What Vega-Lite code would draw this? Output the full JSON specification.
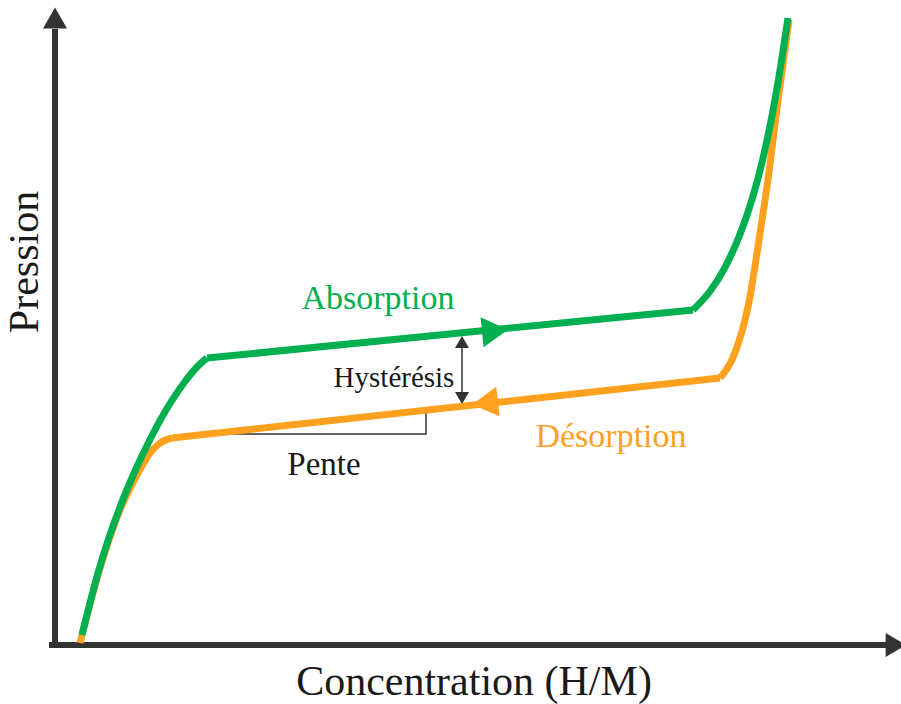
{
  "$schema": "https://vega.github.io/schema/vega-lite/v6.json",
  "width": 901,
  "height": 704,
  "autosize": "none",
  "padding": 0,
  "background": "white",
  "config": {"view": {"stroke": null}},
  "datasets": {
    "curves": [
      {"curve": "Désorption", "seg": "o1", "x": 25, "y": 2},
      {"curve": "Désorption", "seg": "o1", "x": 43, "y": 70},
      {"curve": "Désorption", "seg": "o1", "x": 65, "y": 135},
      {"curve": "Désorption", "seg": "o1", "x": 82, "y": 170},
      {"curve": "Désorption", "seg": "o1", "x": 95, "y": 192},
      {"curve": "Désorption", "seg": "o1", "x": 105, "y": 202},
      {"curve": "Désorption", "seg": "o1", "x": 117, "y": 207},
      {"curve": "Désorption", "seg": "o2", "x": 117, "y": 207},
      {"curve": "Désorption", "seg": "o2", "x": 665, "y": 267},
      {"curve": "Désorption", "seg": "o3", "x": 665, "y": 267},
      {"curve": "Désorption", "seg": "o3", "x": 681, "y": 295},
      {"curve": "Désorption", "seg": "o3", "x": 694, "y": 343},
      {"curve": "Désorption", "seg": "o3", "x": 704, "y": 405},
      {"curve": "Désorption", "seg": "o3", "x": 714, "y": 473},
      {"curve": "Désorption", "seg": "o3", "x": 722, "y": 537},
      {"curve": "Désorption", "seg": "o3", "x": 729, "y": 588},
      {"curve": "Désorption", "seg": "o3", "x": 734, "y": 625},
      {"curve": "Absorption", "seg": "g1", "x": 27, "y": 10},
      {"curve": "Absorption", "seg": "g1", "x": 43, "y": 72},
      {"curve": "Absorption", "seg": "g1", "x": 65, "y": 138},
      {"curve": "Absorption", "seg": "g1", "x": 80, "y": 174},
      {"curve": "Absorption", "seg": "g1", "x": 95, "y": 205.5},
      {"curve": "Absorption", "seg": "g1", "x": 115, "y": 241.5},
      {"curve": "Absorption", "seg": "g1", "x": 130, "y": 263.5},
      {"curve": "Absorption", "seg": "g1", "x": 142, "y": 278},
      {"curve": "Absorption", "seg": "g1", "x": 152, "y": 287},
      {"curve": "Absorption", "seg": "g2", "x": 152, "y": 287},
      {"curve": "Absorption", "seg": "g2", "x": 638, "y": 335},
      {"curve": "Absorption", "seg": "g3", "x": 638, "y": 335},
      {"curve": "Absorption", "seg": "g3", "x": 655, "y": 353.7},
      {"curve": "Absorption", "seg": "g3", "x": 670, "y": 377.7},
      {"curve": "Absorption", "seg": "g3", "x": 685, "y": 410.7},
      {"curve": "Absorption", "seg": "g3", "x": 697, "y": 445.5},
      {"curve": "Absorption", "seg": "g3", "x": 707, "y": 482.5},
      {"curve": "Absorption", "seg": "g3", "x": 716, "y": 524},
      {"curve": "Absorption", "seg": "g3", "x": 724, "y": 568.7},
      {"curve": "Absorption", "seg": "g3", "x": 733, "y": 627}
    ],
    "rules": [
      {"name": "xaxis", "x": -6, "x2": 831, "y": 0, "y2": 0, "w": 6},
      {"name": "yaxis", "x": 0, "x2": 0, "y": -3, "y2": 616, "w": 6},
      {"name": "hyst", "x": 407, "x2": 407, "y": 250, "y2": 300, "w": 1.5}
    ],
    "heads": [
      {"name": "yaxis", "x": 0, "y": 627, "shape": "triangle-up", "size": 576, "angle": 0, "color": "#333333"},
      {"name": "xaxis", "x": 841, "y": 0, "shape": "triangle-right", "size": 576, "angle": 0, "color": "#333333"},
      {"name": "Absorption", "x": 440, "y": 314, "shape": "triangle-right", "size": 900, "angle": -5.6, "color": "#00b050"},
      {"name": "Désorption", "x": 430, "y": 242, "shape": "triangle-left", "size": 900, "angle": -6.4, "color": "#ffa11f"},
      {"name": "hyst-top", "x": 407, "y": 303, "shape": "triangle-up", "size": 196, "angle": 0, "color": "#333333"},
      {"name": "hyst-bottom", "x": 407, "y": 247, "shape": "triangle-down", "size": 196, "angle": 0, "color": "#333333"}
    ],
    "bracket": [
      {"o": 1, "x": 173, "y": 211},
      {"o": 2, "x": 371, "y": 211},
      {"o": 3, "x": 371, "y": 234}
    ],
    "labels": [
      {"text": "Absorption", "x": 323, "y": 336, "size": 34, "angle": 0, "color": "#00b050"},
      {"text": "Désorption", "x": 556, "y": 198, "size": 34, "angle": 0, "color": "#ffa11f"},
      {"text": "Pente", "x": 269, "y": 170, "size": 33, "angle": 0, "color": "#1a1a1a"},
      {"text": "Hystérésis", "x": 339, "y": 258, "size": 29, "angle": 0, "color": "#1a1a1a"},
      {"text": "Concentration (H/M)", "x": 419, "y": -50, "size": 42, "angle": 0, "color": "#1a1a1a"},
      {"text": "Pression", "x": -17, "y": 383, "size": 42, "angle": 270, "color": "#1a1a1a"}
    ]
  },
  "encoding": {
    "x": {"type": "quantitative", "scale": {"domain": [-55, 846], "nice": false, "zero": false}, "axis": null},
    "y": {"type": "quantitative", "scale": {"domain": [-59, 645], "nice": false, "zero": false}, "axis": null}
  },
  "layer": [
    {
      "data": {"name": "rules"},
      "mark": {"type": "rule", "color": "#333333", "strokeCap": "butt"},
      "encoding": {
        "x": {"field": "x", "type": "quantitative"},
        "x2": {"field": "x2"},
        "y": {"field": "y", "type": "quantitative"},
        "y2": {"field": "y2"},
        "strokeWidth": {"field": "w", "type": "quantitative", "scale": null}
      }
    },
    {
      "data": {"name": "bracket"},
      "mark": {"type": "line", "color": "#333333", "strokeWidth": 1.5},
      "encoding": {
        "x": {"field": "x", "type": "quantitative"},
        "y": {"field": "y", "type": "quantitative"},
        "order": {"field": "o", "type": "quantitative"}
      }
    },
    {
      "data": {"name": "curves"},
      "transform": [{"filter": "datum.curve === 'Désorption'"}],
      "mark": {"type": "line", "color": "#ffa11f", "strokeWidth": 7, "interpolate": "monotone"},
      "encoding": {
        "x": {"field": "x", "type": "quantitative"},
        "y": {"field": "y", "type": "quantitative"},
        "detail": {"field": "seg"}
      }
    },
    {
      "data": {"name": "curves"},
      "transform": [{"filter": "datum.curve === 'Absorption'"}],
      "mark": {"type": "line", "color": "#00b050", "strokeWidth": 7, "interpolate": "monotone"},
      "encoding": {
        "x": {"field": "x", "type": "quantitative"},
        "y": {"field": "y", "type": "quantitative"},
        "detail": {"field": "seg"}
      }
    },
    {
      "data": {"name": "heads"},
      "mark": {"type": "point", "filled": true, "opacity": 1, "strokeWidth": 0},
      "encoding": {
        "x": {"field": "x", "type": "quantitative"},
        "y": {"field": "y", "type": "quantitative"},
        "shape": {"field": "shape", "type": "nominal", "scale": null},
        "size": {"field": "size", "type": "quantitative", "scale": null},
        "angle": {"field": "angle", "type": "quantitative", "scale": null},
        "color": {"field": "color", "type": "nominal", "scale": null}
      }
    },
    {
      "data": {"name": "labels"},
      "mark": {"type": "text", "font": "'Liberation Serif', 'Times New Roman', 'DejaVu Serif', serif", "align": "center", "baseline": "alphabetic"},
      "encoding": {
        "x": {"field": "x", "type": "quantitative"},
        "y": {"field": "y", "type": "quantitative"},
        "text": {"field": "text"},
        "size": {"field": "size", "type": "quantitative", "scale": null},
        "angle": {"field": "angle", "type": "quantitative", "scale": null},
        "color": {"field": "color", "type": "nominal", "scale": null}
      }
    }
  ]
}
